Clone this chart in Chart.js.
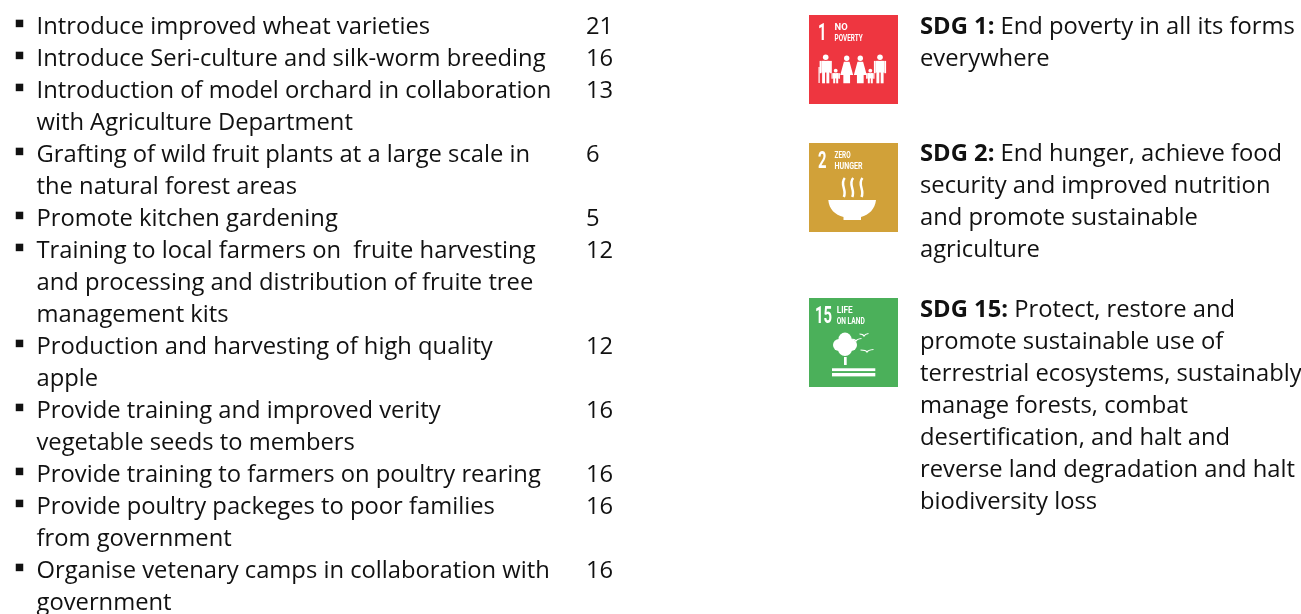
<!DOCTYPE html>
<html>
<head>
<meta charset="utf-8">
<title>Activities and SDGs</title>
<style>
  html, body { margin: 0; padding: 0; background: #fff; }
  canvas { display: block; }
</style>
<script src="https://cdn.jsdelivr.net/npm/chart.js@4"></script>
</head>
<body>
<canvas id="grafico" width="1301" height="614"></canvas>
<script>
// Actividades (cada una con sus lineas de texto) y su valor
const activityLines = [
  ['Introduce improved wheat varieties'],
  ['Introduce Seri-culture and silk-worm breeding'],
  ['Introduction of model orchard in collaboration', 'with Agriculture Department'],
  ['Grafting of wild fruit plants at a large scale in', 'the natural forest areas'],
  ['Promote kitchen gardening'],
  ['Training to local farmers on  fruite harvesting', 'and processing and distribution of fruite tree', 'management kits'],
  ['Production and harvesting of high quality', 'apple'],
  ['Provide training and improved verity', 'vegetable seeds to members'],
  ['Provide training to farmers on poultry rearing'],
  ['Provide poultry packeges to poor families', 'from government'],
  ['Organise vetenary camps in collaboration with', 'government']
];
const activityValues = [21, 16, 13, 6, 5, 12, 12, 16, 16, 16, 16];

// Objetivos
const sdgHeads = ['SDG 1:', 'SDG 2:', 'SDG 15:'];
const sdgLines = [
  ['End poverty in all its forms', 'everywhere'],
  ['End hunger, achieve food', 'security and improved nutrition', 'and promote sustainable', 'agriculture'],
  ['Protect, restore and', 'promote sustainable use of', 'terrestrial ecosystems, sustainably', 'manage forests, combat', 'desertification, and halt and', 'reverse land degradation and halt', 'biodiversity loss']
];
const sdgStart = [0, 3.97, 8.84];
const tileLines = [0.797, 4.797, 9.64];
const sdgNumbers = ['1', '2', '15'];
const sdgNames = [['NO', 'POVERTY'], ['ZERO', 'HUNGER'], ['LIFE', 'ON LAND']];
const sdgColors = ['#ee3640', '#d1a139', '#4bb05a'];

// Layout
const FONT = '"Open Sans", sans-serif';
const FONT_SIZE = 24;
const TEXT_SCALE = 0.99;
const LINE_PX = 32, FIRST_BASELINE = 34;
const COL_BULLET = 19.5, COL_TEXT = 36.5, COL_VALUE = 586, COL_TILE = 853.5, COL_SDG = 920;
const TILE_SIDE = 89;

// Linea de inicio de cada actividad
const startLines = [];
let acc = 0;
activityLines.forEach(l => { startLines.push(acc); acc += l.length; });

function txt(ctx, s, x, y, bold) {
  ctx.save();
  ctx.font = (bold ? 'bold ' : '') + FONT_SIZE + 'px ' + FONT;
  ctx.translate(x, y);
  ctx.scale(TEXT_SCALE, 1);
  ctx.fillText(s, 0, 0);
  const w = ctx.measureText(s).width * TEXT_SCALE;
  ctx.restore();
  return w;
}

function tileLabel(ctx, number, name, numX) {
  ctx.fillStyle = '#fff';
  ctx.textAlign = 'left';
  ctx.font = 'bold 24px "Liberation Sans Narrow", Roboto, sans-serif';
  ctx.fillText(number, numX, 25.3, number.length > 1 ? 17 : 8.5);
  ctx.font = 'bold 9.4px "Liberation Sans Narrow", Roboto, sans-serif';
  const x = number.length > 1 ? 27.7 : 25.6;
  ctx.fillText(name[0], x, 15.2, 16);
  ctx.fillText(name[1], x, 25.6, 28);
}

function person(ctx, cx, top, bottom, size, dress) {
  ctx.beginPath();
  ctx.arc(cx, top, size * 0.48, 0, Math.PI * 2);
  ctx.fill();
  const y0 = top + size * 0.62;
  if (dress) {
    ctx.beginPath();
    ctx.moveTo(cx - size * 0.5, y0);
    ctx.lineTo(cx + size * 0.5, y0);
    ctx.lineTo(cx + size * 1.15, y0 + (bottom - y0) * 0.62);
    ctx.lineTo(cx + size * 0.6, y0 + (bottom - y0) * 0.62);
    ctx.lineTo(cx + size * 0.6, bottom);
    ctx.lineTo(cx - size * 0.6, bottom);
    ctx.lineTo(cx - size * 0.6, y0 + (bottom - y0) * 0.62);
    ctx.lineTo(cx - size * 1.15, y0 + (bottom - y0) * 0.62);
    ctx.closePath();
    ctx.fill();
  } else {
    ctx.fillRect(cx - size * 0.75, y0, size * 1.5, (bottom - y0) * 0.52);
    ctx.fillRect(cx - size * 0.62, y0, size * 0.5, bottom - y0);
    ctx.fillRect(cx + size * 0.12, y0, size * 0.5, bottom - y0);
    ctx.fillRect(cx - size * 1.05, y0, size * 0.3, (bottom - y0) * 0.55);
    ctx.fillRect(cx + size * 0.75, y0, size * 0.3, (bottom - y0) * 0.55);
  }
}

function drawPoverty(ctx) {
  person(ctx, 16.7, 42.3, 68.3, 5.8, false);
  person(ctx, 26.7, 55.7, 68.3, 4, false);
  person(ctx, 37.7, 43.3, 68.3, 5.6, true);
  person(ctx, 51.3, 43.3, 68.3, 5.6, true);
  person(ctx, 61.3, 55.7, 68.3, 4, false);
  person(ctx, 71, 42.3, 68.3, 5.8, false);
  ctx.fillRect(9.5, 52, 1.2, 16);
}

function drawHunger(ctx) {
  ctx.beginPath();
  ctx.moveTo(19.3, 57);
  ctx.lineTo(67, 57);
  ctx.bezierCurveTo(66, 66, 60, 72, 52, 74);
  ctx.lineTo(52, 77);
  ctx.lineTo(34.5, 77);
  ctx.lineTo(34.5, 74);
  ctx.bezierCurveTo(26, 72, 20, 66, 19.3, 57);
  ctx.fill();
  ctx.strokeStyle = '#fff';
  ctx.lineWidth = 2.5;
  [34.3, 42.7, 52].forEach(x => {
    ctx.beginPath();
    ctx.moveTo(x + 1.5, 35);
    ctx.bezierCurveTo(x - 4, 41, x + 4, 47, x + 0.5, 54);
    ctx.stroke();
  });
}

function drawLand(ctx) {
  [[36, 41, 6.5], [30, 47, 6], [42, 47, 6], [36, 51, 7]].forEach(c => {
    ctx.beginPath();
    ctx.arc(c[0], c[1], c[2], 0, Math.PI * 2);
    ctx.fill();
  });
  ctx.fillRect(35, 59, 2.7, 8);
  ctx.fillRect(23, 70.3, 43.3, 2.8);
  ctx.fillRect(23, 75, 43.3, 3.4);
  ctx.strokeStyle = '#fff';
  ctx.lineWidth = 1.2;
  [[55, 37, 4.5], [47, 42, 5.5], [58, 53, 6.5]].forEach(b => {
    ctx.beginPath();
    ctx.moveTo(b[0] - b[2], b[1] - 1);
    ctx.quadraticCurveTo(b[0] - 1, b[1] - 1, b[0], b[1] + 1);
    ctx.quadraticCurveTo(b[0] + 1, b[1] - 1, b[0] + b[2], b[1] - 1.5);
    ctx.stroke();
  });
}

const iconDrawers = [drawPoverty, drawHunger, drawLand];

const panelText = {
  id: 'panelText',
  afterDatasetsDraw(chart) {
    const { ctx, scales: { x, y } } = chart;
    ctx.save();
    ctx.fillStyle = '#111';
    ctx.textBaseline = 'alphabetic';
    ctx.textAlign = 'left';

    activityLines.forEach((lines, i) => {
      lines.forEach((s, j) => {
        txt(ctx, s, x.getPixelForValue(COL_TEXT), y.getPixelForValue(startLines[i] + j));
      });
      txt(ctx, String(activityValues[i]), x.getPixelForValue(COL_VALUE), y.getPixelForValue(startLines[i]));
    });

    sdgLines.forEach((lines, i) => {
      const px = x.getPixelForValue(COL_SDG);
      lines.forEach((s, j) => {
        const py = y.getPixelForValue(sdgStart[i] + j);
        if (j === 0) {
          const w = txt(ctx, sdgHeads[i] + ' ', px, py, true);
          txt(ctx, s, px + w, py);
        } else {
          txt(ctx, s, px, py);
        }
      });

      // Icono sobre el cuadrado
      ctx.save();
      ctx.translate(x.getPixelForValue(COL_TILE) - TILE_SIDE / 2, y.getPixelForValue(tileLines[i]) - TILE_SIDE / 2);
      tileLabel(ctx, sdgNumbers[i], sdgNames[i], i === 2 ? 6 : 9);
      iconDrawers[i](ctx);
      ctx.restore();
      ctx.fillStyle = '#111';
    });
    ctx.restore();
  }
};

new Chart(document.getElementById('grafico'), {
  type: 'scatter',
  data: {
    datasets: [{
      label: 'Actividades',
      data: startLines.map(l => ({ x: COL_BULLET, y: l - 0.33 })),
      backgroundColor: '#111',
      borderWidth: 0,
      pointStyle: 'rect',
      pointRadius: 5.3
    }, {
      label: 'SDG',
      data: tileLines.map(l => ({ x: COL_TILE, y: l })),
      backgroundColor: sdgColors,
      borderWidth: 0,
      pointStyle: 'rect',
      pointRadius: TILE_SIDE * Math.SQRT1_2
    }]
  },
  plugins: [panelText],
  options: {
    responsive: false,
    animation: false,
    layout: { padding: 0, autoPadding: false },
    plugins: { legend: { display: false }, tooltip: { enabled: false } },
    scales: {
      x: { type: 'linear', display: false, min: 0, max: 1301 },
      y: { type: 'linear', display: false, min: -FIRST_BASELINE / LINE_PX, max: (614 - FIRST_BASELINE) / LINE_PX, reverse: true }
    }
  }
});
</script>
</body>
</html>
